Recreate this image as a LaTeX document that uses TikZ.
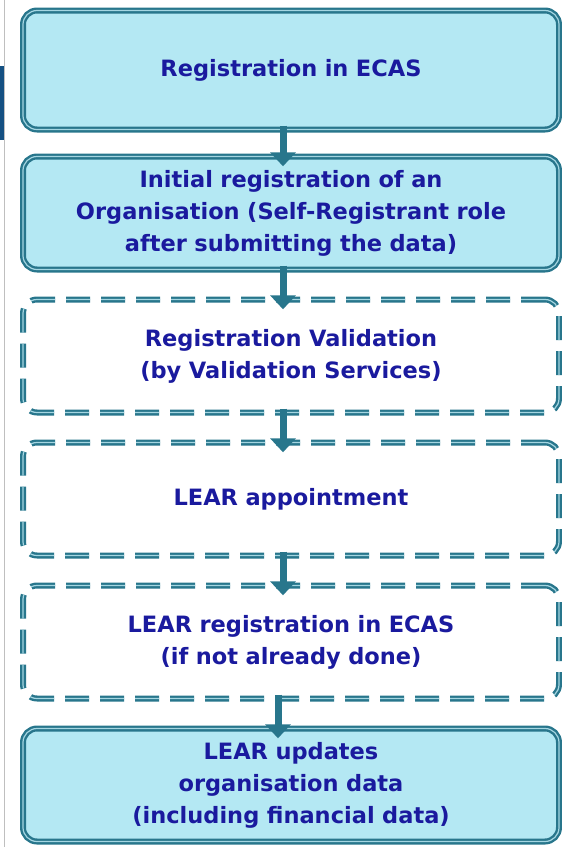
\documentclass[tikz,border=0pt]{standalone}
\usepackage{fontspec}
\setmainfont{DejaVu Sans}
\usepackage{xcolor}
\definecolor{bordercolour}{RGB}{40,118,140}
\definecolor{innercolour}{RGB}{165,214,226}
\definecolor{stagecolour}{RGB}{180,232,243}
\definecolor{textcolour}{RGB}{26,26,158}
\definecolor{edgecolour}{RGB}{20,80,130}
\usetikzlibrary{shapes.geometric, arrows.meta}
\tikzstyle{stage} = [rectangle, rounded corners=14pt, minimum width=536pt, minimum height=113pt, text centered, text width=520pt, draw=bordercolour, double=innercolour, double distance=1.2pt, line width=2.4pt, fill=stagecolour, text=textcolour, font=\fontsize{22.5}{32}\selectfont\bfseries]
\tikzstyle{optstage} = [stage, fill=white, dash pattern=on 24pt off 11pt]
\tikzstyle{arrow} = [line width=7pt, draw=bordercolour, -{Triangle[width=25pt,length=14pt]}, shorten <=-5pt, shorten >=-11pt]

\begin{document}
\begin{tikzpicture}[x=1pt, y=1pt, node distance=143pt]
	\useasboundingbox (0,0) rectangle (562,-847);
	\draw [black!25, line width=1pt] (4.5,0) -- (4.5,-847);
	\fill [edgecolour] (0,-66) rectangle (3.5,-140);
	\node (ecas) [stage, minimum height=119pt] at (291,-70) {Registration in ECAS};
	\node (orgreg) [stage, below of=ecas, yshift=0pt] {Initial registration of an\\Organisation (Self-Registrant role\\after submitting the data)};
	\node (valid) [optstage, below of=orgreg] {Registration Validation\\(by Validation Services)};
	\node (lear) [optstage, below of=valid] {LEAR appointment};
	\node (learecas) [optstage, below of=lear] {LEAR registration in ECAS\\(if not already done)};
	\node (update) [stage, below of=learecas] {LEAR updates\\organisation data\\(including financial data)};
	\draw [arrow] ([xshift=-8pt]ecas.south) -- ([xshift=-8pt]orgreg.north);
	\draw [arrow] ([xshift=-8pt]orgreg.south) -- ([xshift=-8pt]valid.north);
	\draw [arrow] ([xshift=-8pt]valid.south) -- ([xshift=-8pt]lear.north);
	\draw [arrow] ([xshift=-8pt]lear.south) -- ([xshift=-8pt]learecas.north);
	\draw [arrow] ([xshift=-13pt]learecas.south) -- ([xshift=-13pt]update.north);
\end{tikzpicture}
\end{document}
